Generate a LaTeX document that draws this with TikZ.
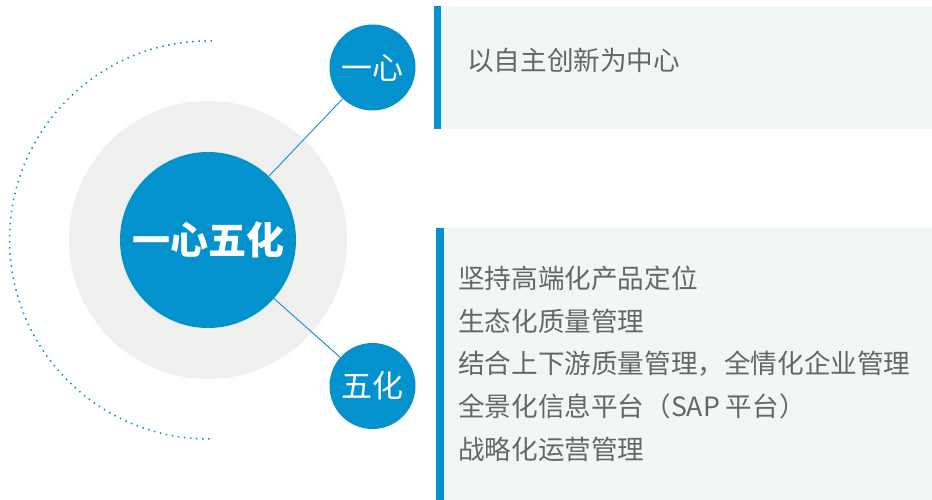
\documentclass[tikz,border=0pt]{standalone}
\usepackage{fontspec}
\setmainfont{Noto Sans CJK SC}
\definecolor{hublue}{RGB}{3,146,206}
\definecolor{ringgray}{RGB}{240,240,240}
\definecolor{panelbg}{RGB}{241,246,247}
\definecolor{textgray}{RGB}{102,102,102}
\begin{document}
\begin{tikzpicture}
	[x=1pt,y=-1pt,
	ring/.style={circle,fill=ringgray,minimum size=278pt,inner sep=0pt},
	hub/.style={circle,fill=hublue,text=white,minimum size=176pt,inner sep=0pt,font=\fontsize{38}{40}\selectfont\bfseries},
	leaf/.style={circle,fill=hublue,text=white,minimum size=86pt,inner sep=0pt,font=\fontsize{31}{33}\selectfont},
	link/.style={draw=hublue,line width=0.9pt},
	item/.style={anchor=west,text=textgray,inner sep=0pt,font=\fontsize{26.6}{28}\selectfont}]
	\useasboundingbox (0,0) rectangle (932,500);
	\fill[white] (0,0) rectangle (932,500);
	% dotted arc round the left side
	\draw[hublue,line width=1.5pt,dash pattern=on 1.5pt off 4.6pt]
		(212,41) arc[start angle=271,end angle=89,radius=199];
	\node[ring,name=ring] at (208,240) {};
	\node[hub,name=hub] at (208,240) {一心五化};
	\node[leaf,name=xin] at (372.5,67.5) {一心};
	\node[leaf,name=hua] at (372.5,386) {五化};
	\draw[link] (hub) -- (xin);
	\draw[link] (hub) -- (hua);
	% panels
	\fill[panelbg] (434,6) rectangle (932,129);
	\fill[hublue] (434,6) rectangle (441,129);
	\fill[panelbg] (436,228) rectangle (932,500);
	\fill[hublue] (436,228) rectangle (444,500);
	\node[item,name=top] at (467,60) {以自主创新为中心};
	\foreach \t [count=\i] in {{坚持高端化产品定位},{生态化质量管理},{结合上下游质量管理，全情化企业管理},{全景化信息平台（SAP 平台）},{战略化运营管理}}
	{
		\node[item,name=line\i] at (458,{278.3+42.7*(\i-1)}) {\t};
	}
\end{tikzpicture}
\end{document}
